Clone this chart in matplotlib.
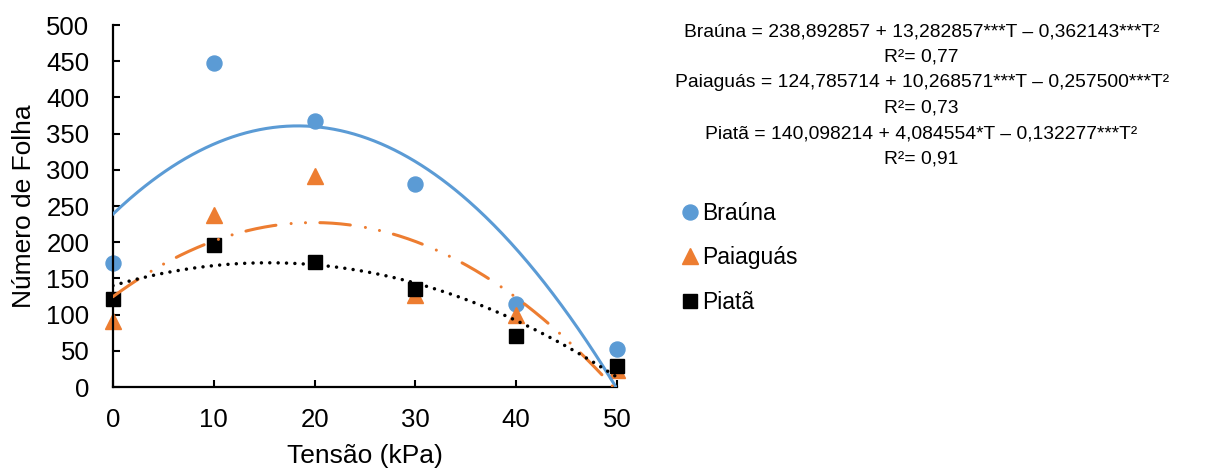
import numpy as np
import matplotlib
matplotlib.use('Agg')
import matplotlib.pyplot as plt

plt.rcParams['font.family'] = ['Liberation Sans', 'DejaVu Sans']

# dados
tensao = [0, 10, 20, 30, 40, 50]
brauna = [172, 448, 368, 281, 115, 52]
paiaguas = [91, 237, 292, 127, 100, 23]
piata = [122, 196, 173, 136, 70, 29]

# coeficientes das equacoes (T², T, constante)
coef_brauna = [-0.362143, 13.282857, 238.892857]
coef_paiaguas = [-0.257500, 10.268571, 124.785714]
coef_piata = [-0.132277, 4.084554, 140.098214]

equacoes = [
    "Braúna = 238,892857 + 13,282857***T – 0,362143***T²",
    "R²= 0,77",
    "Paiaguás = 124,785714 + 10,268571***T – 0,257500***T²",
    "R²= 0,73",
    "Piatã = 140,098214 + 4,084554*T – 0,132277***T²",
    "R²= 0,91",
]

azul = '#5B9BD5'
laranja = '#ED7D31'

fig = plt.figure(figsize=(12.28, 4.68), dpi=100)
ax = fig.add_axes([0.092, 0.173, 0.4104, 0.7735])

# pontos
ax.plot(tensao, brauna, ls='none', marker='o', ms=10.8, color=azul,
        label='Braúna', clip_on=False, zorder=2)
ax.plot(tensao, paiaguas, ls='none', marker='^', ms=11, color=laranja,
        label='Paiaguás', clip_on=False, zorder=2)
ax.plot(tensao, piata, ls='none', marker='s', ms=10.5, color='black',
        label='Piatã', clip_on=False, zorder=2)

# linhas de tendencia
t = np.linspace(0, 50, 300)
ax.plot(t, np.polyval(coef_brauna, t), color=azul, lw=2.2, zorder=3)
ax.plot(t, np.polyval(coef_paiaguas, t), color=laranja, lw=2.2, zorder=3,
        ls=(0, (10, 5, 0.01, 4.7, 0.01, 4.7)), dash_capstyle='round')
ax.plot(t, np.polyval(coef_piata, t), color='black', lw=2.5, zorder=3,
        ls=(0, (0.01, 2.4)), dash_capstyle='round')

ax.set_xlim(0, 50)
ax.set_ylim(0, 500)
ax.set_xticks(tensao)
ax.set_yticks(range(0, 501, 50))

for s in ['top', 'right']:
    ax.spines[s].set_visible(False)
for s in ['left', 'bottom']:
    ax.spines[s].set_linewidth(1.6)

ax.tick_params(direction='in', length=5, width=1.5, labelsize=18.5)
ax.tick_params(axis='y', pad=17)
ax.tick_params(axis='x', pad=15)

ax.set_xlabel('Tensão (kPa)', fontsize=19, labelpad=9)
ax.set_ylabel('Número de Folha', fontsize=19)
ax.yaxis.set_label_coords(-0.152, 0.5)

fig.text(0.7505, 0.95, "\n".join(equacoes), ha='center', va='top',
         fontsize=13.9, linespacing=1.65, multialignment='center')

ax.legend(loc='upper left', bbox_to_anchor=(0.5562, 0.569),
          bbox_transform=fig.transFigure, frameon=False, fontsize=16.5,
          borderpad=0, borderaxespad=0, handlelength=0.65,
          handletextpad=0.2, labelspacing=0.95)

fig.savefig('out.png', dpi=100)
